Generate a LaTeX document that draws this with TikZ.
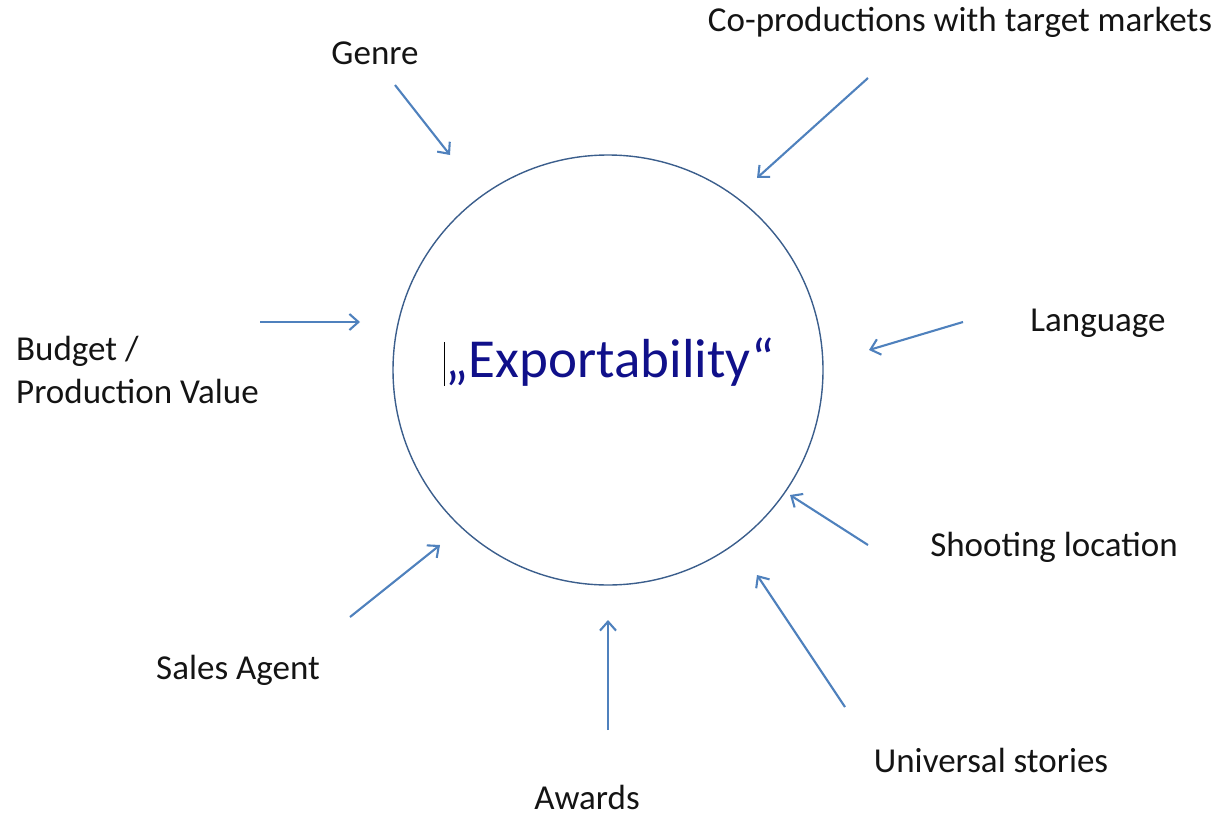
\documentclass[tikz,border=0pt]{standalone}
\usepackage{fontspec}
\setmainfont{Carlito}
\usetikzlibrary{arrows.meta}
\definecolor{arrowblue}{HTML}{4F81BD}
\definecolor{circblue}{HTML}{3B5E8C}
\definecolor{navytext}{HTML}{10108A}
\tikzset{
  lbl/.style={font=\fontsize{35}{43}\selectfont, text=black!92, inner sep=0pt},
  feed/.style={draw=arrowblue, line width=2.1pt, -{Straight Barb[length=9pt,width=16pt,line width=2.1pt]}},
}
\begin{document}
\begin{tikzpicture}[x=1pt,y=-1pt]
\useasboundingbox (0,0) rectangle (1223,816);
\node[draw=circblue, line width=1.4pt, circle, minimum size=430pt, inner sep=0pt] (c) at (608,370) {};
\node[font=\fontsize{55}{60}\selectfont, text=navytext, inner sep=0pt] (exp) at (610,362) {„Exportability“};
\draw[black, line width=1.2pt] ([xshift=-1pt,yshift=20pt]exp.west) -- ([xshift=-1pt,yshift=-24pt]exp.west);

\node[lbl] (genre) at (375,53) {Genre};
\node[lbl] (copro) at (960,22) {Co-productions with target markets};
\node[lbl, align=left, anchor=west] (budget) at (16,370) {Budget /\\Production Value};
\node[lbl] (lang) at (1098,323) {Language};
\node[lbl] (shoot) at (1054,547) {Shooting location};
\node[lbl] (sales) at (238,670) {Sales Agent};
\node[lbl] (univ) at (991,760) {Universal stories};
\node[lbl] (awards) at (587,797) {Awards};

\coordinate (g1) at (395,85);  \coordinate (g2) at (450,155);
\coordinate (p1) at (868,78);  \coordinate (p2) at (757,178);
\coordinate (b1) at (260,322); \coordinate (b2) at (360,322);
\coordinate (l1) at (963,322); \coordinate (l2) at (869,350);
\coordinate (s1) at (868,545); \coordinate (s2) at (790,495);
\coordinate (u1) at (845,707); \coordinate (u2) at (757,575);
\coordinate (a1) at (608,730); \coordinate (a2) at (608,620);
\coordinate (sa1) at (350,617); \coordinate (sa2) at (440,545);

\draw[feed] (g1) -- (g2);
\draw[feed] (p1) -- (p2);
\draw[feed] (b1) -- (b2);
\draw[feed] (l1) -- (l2);
\draw[feed] (s1) -- (s2);
\draw[feed] (u1) -- (u2);
\draw[feed] (a1) -- (a2);
\draw[feed] (sa1) -- (sa2);
\end{tikzpicture}
\end{document}
